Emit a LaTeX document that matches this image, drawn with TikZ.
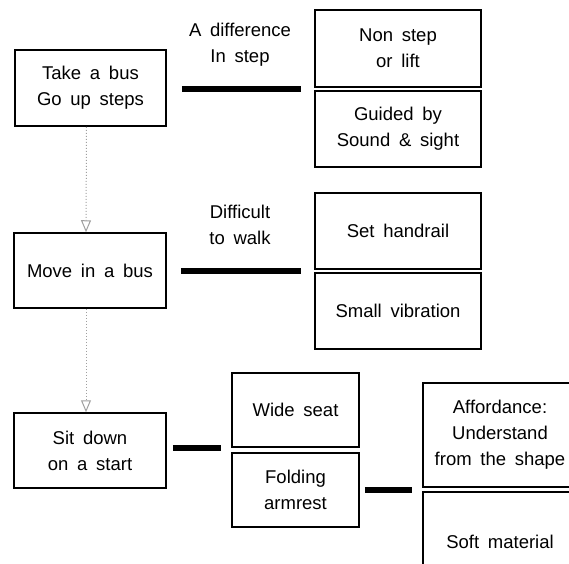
\documentclass[tikz,border=0pt]{standalone}
\usepackage{fontspec}
\setmainfont{Liberation Sans}[WordSpace=1.7]
\usetikzlibrary{calc,arrows.meta}
\begin{document}
\begin{tikzpicture}[x=1pt,y=-1pt,
  every node/.style={font=\fontsize{18.5}{26}\selectfont, align=center, inner sep=0pt},
  box/.style={draw, line width=1.5pt, minimum width=#1, rectangle},
  bar/.style={line width=6pt},
  flow/.style={draw=gray!75, dotted, line width=1pt, -{Triangle[open, length=12pt, width=10pt]}}
]
\useasboundingbox (0,0) rectangle (569,563);
\clip (0,0) rectangle (569,563);
% left column
\node[box=151pt, minimum height=76pt] (b1) at (90.5,88) {Take a bus\\Go up steps};
\node[box=152pt, minimum height=75pt] (b2) at (90,270.5) {Move in a bus};
\node[box=152pt, minimum height=75pt] (b3) at (90,450.5) {Sit down\\on a start};
% right boxes
\node[box=166pt, minimum height=77pt] (r1) at (398,48.5) {Non step\\or lift};
\node[box=166pt, minimum height=76pt] (r2) at (398,129) {Guided by\\Sound \& sight};
\node[box=166pt, minimum height=76pt] (r3) at (398,231) {Set handrail};
\node[box=166pt, minimum height=76pt] (r4) at (398,311) {Small vibration};
\node[box=127pt, minimum height=74pt] (w1) at (295.5,410) {Wide seat};
\node[box=127pt, minimum height=74pt] (w2) at (295.5,490) {Folding\\armrest};
\node[box=154pt, minimum height=104pt] (a1) at (500,435) {Affordance:\\Understand\\from the shape};
\node[box=154pt, minimum height=100pt] (a2) at (500,542) {Soft material};
% labels
\node (l1) at (240,45) {A difference\\In step};
\node (l2) at (240,225) {Difficult\\to walk};
% gap points
\coordinate (g1) at ($(r1.south west)!0.5!(r2.north west)$);
\coordinate (g2) at ($(r3.south west)!0.5!(r4.north west)$);
\coordinate (g3) at ($(w1.south west)!0.5!(w2.north west)+(0,-2)$);
\coordinate (g4) at ($(a1.south west)!0.5!(a2.north west)$);
% bars
\draw[bar] ([xshift=15pt]b1.east |- g1) -- ([xshift=-13pt]g1);
\draw[bar] ([xshift=14pt]b2.east |- g2) -- ([xshift=-13pt]g2);
\draw[bar] ([xshift=6pt]b3.east |- g3) -- ([xshift=-10pt]g3);
\draw[bar] ([xshift=5pt]w2.east |- g4) -- ([xshift=-10pt]g4);
% flow arrows
\draw[flow] ([xshift=-4pt]b1.south) -- ([xshift=-4pt]b2.north);
\draw[flow] ([xshift=-4pt]b2.south) -- ([xshift=-4pt]b3.north);
\end{tikzpicture}
\end{document}
